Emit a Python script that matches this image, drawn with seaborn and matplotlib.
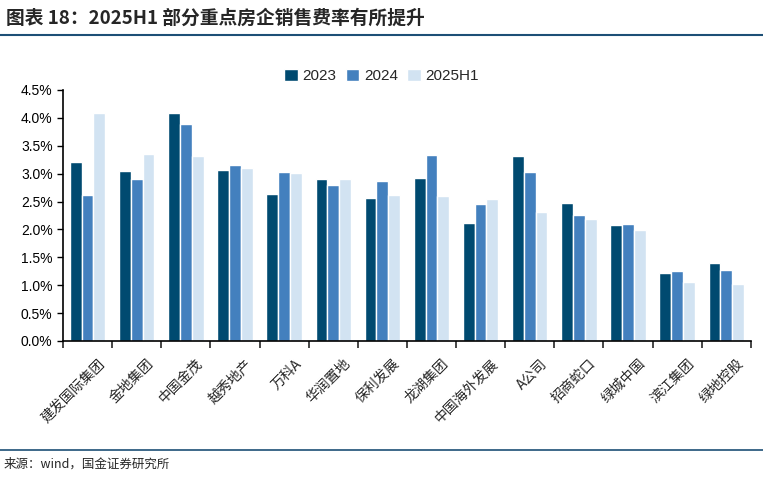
import matplotlib
matplotlib.use("Agg")
import matplotlib.pyplot as plt
import matplotlib.ticker as mticker
import matplotlib.transforms as mtransforms
from matplotlib.lines import Line2D
import pandas as pd
import seaborn as sns

companies = ['建发国际集团', '金地集团', '中国金茂', '越秀地产', '万科A', '华润置地', '保利发展',
             '龙湖集团', '中国海外发展', 'A公司', '招商蛇口', '绿城中国', '滨江集团', '绿地控股']
series = ['2023', '2024', '2025H1']
v2023 = [3.21, 3.05, 4.09, 3.07, 2.64, 2.90, 2.56, 2.92, 2.12, 3.32, 2.47, 2.08, 1.22, 1.40]
v2024 = [2.62, 2.90, 3.89, 3.16, 3.03, 2.80, 2.87, 3.33, 2.46, 3.03, 2.26, 2.10, 1.25, 1.27]
v2025h1 = [4.09, 3.35, 3.32, 3.11, 3.01, 2.90, 2.62, 2.60, 2.55, 2.31, 2.19, 1.99, 1.06, 1.02]
colors = ['#004a70', '#4380be', '#d2e3f2']

rows = []
for s, vals in zip(series, [v2023, v2024, v2025h1]):
    for c, v in zip(companies, vals):
        rows.append({'company': c, 'series': s, 'value': v / 100})
df = pd.DataFrame(rows)

sns.set_style('white')
plt.rcParams['font.family'] = ['Liberation Sans', 'Noto Sans CJK SC', 'DejaVu Sans']

fig = plt.figure(figsize=(7.63, 4.83), dpi=100)
ax = fig.add_axes([0.0826, 0.294, 0.9014, 0.5197])

sns.barplot(data=df, x='company', y='value', hue='series', palette=colors,
            width=0.72, saturation=1, ax=ax, legend=True)

ax.set_ylim(0, 0.045)
ax.set_xlim(-0.5, len(companies) - 0.5)
ax.yaxis.set_major_locator(mticker.MultipleLocator(0.005))
ax.yaxis.set_major_formatter(mticker.PercentFormatter(1.0, decimals=1))
ax.set_xlabel('')
ax.set_ylabel('')
for side in ['top', 'right']:
    ax.spines[side].set_visible(False)
for side in ['left', 'bottom']:
    ax.spines[side].set_color('black')
    ax.spines[side].set_linewidth(1.2)

ax.tick_params(axis='y', direction='out', length=4, width=1, labelsize=10, colors='black', left=True)
ax.tick_params(axis='x', which='major', length=0, labelsize=10, pad=4)
ax.set_xticks([i - 0.5 for i in range(len(companies) + 1)], minor=True)
ax.tick_params(axis='x', which='minor', direction='out', length=5, width=1.2, bottom=True)
ax.set_xticklabels(companies, rotation=45, ha='right', rotation_mode='anchor',
                   family=['Noto Sans CJK SC', 'Liberation Sans'])
# nudge labels right/down like the reference
shift = mtransforms.ScaledTranslation(0.10, -0.10, fig.dpi_scale_trans)
for lab in ax.get_xticklabels():
    lab.set_transform(lab.get_transform() + shift)

handles, labels = ax.get_legend_handles_labels()
ax.legend(handles, labels, loc='center', bbox_to_anchor=(0.5, 0.843), bbox_transform=fig.transFigure,
          ncol=3, frameon=False, fontsize=11, handlelength=0.9, handleheight=0.9,
          handletextpad=0.3, columnspacing=0.6)

fig.text(0.008, 0.962, '图表 18：2025H1 部分重点房企销售费率有所提升', fontsize=13.5, fontweight='bold',
         style='italic', va='center', ha='left', family=['Noto Sans CJK SC', 'DejaVu Sans'])
fig.add_artist(Line2D([0.0, 1.0], [0.928, 0.928], color='#1d4f76', linewidth=1.5,
                      transform=fig.transFigure))
fig.add_artist(Line2D([0.0, 1.0], [0.068, 0.068], color='#1d4f76', linewidth=1.2,
                      transform=fig.transFigure))
fig.text(0.004, 0.040, '来源：wind，国金证券研究所', fontsize=9, va='center', ha='left',
         family=['Noto Sans CJK SC', 'DejaVu Sans'])

fig.savefig('out.png', dpi=100)
